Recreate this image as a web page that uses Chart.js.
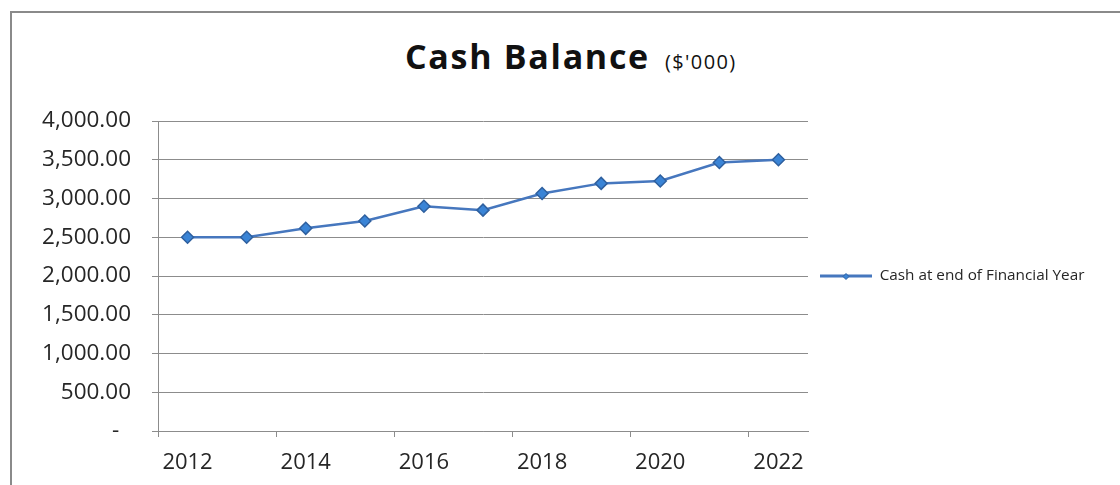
<!DOCTYPE html>
<html>
<head>
<meta charset="utf-8">
<title>Cash Balance</title>
<script src="https://cdn.jsdelivr.net/npm/chart.js@4.4.1/dist/chart.umd.min.js"></script>
<style>
  html, body { margin: 0; padding: 0; background: #fff; width: 1120px; height: 485px; overflow: hidden; }
  #frame { position: absolute; left: 10px; top: 11px; width: 1200px; height: 600px;
           border-left: 2px solid #8a8a8a; border-top: 2px solid #8a8a8a; box-sizing: border-box; }
  #title { position: absolute; left: 405px; top: 39px; white-space: nowrap; color: #111;
           font-family: "Open Sans", sans-serif; font-weight: 700; font-size: 34px; line-height: 34px;
           letter-spacing: 1.7px; }
  #title span { font-size: 20px; font-weight: 400; margin-left: 15px; letter-spacing: 1.4px; }
  canvas { position: absolute; left: 0; top: 0; }
</style>
</head>
<body>
<div id="frame"></div>
<div id="title">Cash Balance<span>($'000)</span></div>
<canvas id="chart" width="1120" height="485"></canvas>
<script>
// Financial years on the category axis
const years = ['2012', '2013', '2014', '2015', '2016', '2017', '2018', '2019', '2020', '2021', '2022'];
// Cash held at the end of each financial year, $'000
const cashBalance = [2500, 2500, 2615, 2710, 2900, 2850, 3065, 3195, 3225, 3465, 3500];
const seriesName = 'Cash at end of Financial Year';
// Value axis range
const yMin = 0;
const yMax = 4000;
const yStep = 500;

const FONT = '"Open Sans", sans-serif';
const AXIS_GRAY = '#8c8c8c';
const TEXT = '#262626';
const LINE_BLUE = '#4677be';

// Plot area edges within the canvas
const PLOT_LEFT = 158;
const PLOT_RIGHT = 808;
const PLOT_TOP = 121;
const PLOT_BOTTOM = 431;

// Legend sizing: reserve exactly the legend's width to the right of the plot
const LEGEND_FONT_SIZE = 15.3;
const LEGEND_BOX_W = 52;
const LEGEND_PAD = 12;
const measure = document.createElement('canvas').getContext('2d');
measure.font = LEGEND_FONT_SIZE + 'px ' + FONT;
const legendWidth = LEGEND_PAD + LEGEND_BOX_W + LEGEND_FONT_SIZE / 2 + measure.measureText(seriesName).width + 10;
const padRight = 1120 - PLOT_RIGHT - legendWidth;

// Small diamond marker on the legend line
const legendMarker = {
  id: 'legendMarker',
  afterDraw(chart) {
    const lg = chart.legend;
    if (!lg || !lg.legendHitBoxes.length) return;
    const hb = lg.legendHitBoxes[0];
    const ds = chart.data.datasets[0];
    const ctx = chart.ctx;
    ctx.save();
    ctx.fillStyle = ds.pointBackgroundColor;
    ctx.strokeStyle = ds.pointBorderColor;
    ctx.lineWidth = 1;
    Chart.helpers.drawPoint(ctx, { pointStyle: 'rectRot', radius: 3, borderWidth: 1 },
      hb.left + LEGEND_BOX_W / 2, hb.top + LEGEND_FONT_SIZE / 2 + 0.5);
    ctx.restore();
  }
};

new Chart(document.getElementById('chart'), {
  type: 'line',
  data: {
    labels: years,
    datasets: [{
      label: seriesName,
      data: cashBalance,
      borderColor: LINE_BLUE,
      backgroundColor: LINE_BLUE,
      borderWidth: 2.5,
      tension: 0,
      fill: false,
      pointStyle: 'rectRot',
      pointRadius: 6,
      pointHoverRadius: 6,
      pointBackgroundColor: '#3a84d6',
      pointBorderColor: '#2f609f',
      pointBorderWidth: 1.5
    }]
  },
  options: {
    responsive: false,
    animation: false,
    devicePixelRatio: 1,
    layout: { padding: { top: PLOT_TOP, left: 0, right: padRight, bottom: 0 } },
    plugins: {
      title: { display: false },
      tooltip: { enabled: false },
      legend: {
        position: 'right',
        align: 'center',
        fullSize: false,
        maxWidth: 600,
        labels: {
          boxWidth: LEGEND_BOX_W,
          boxHeight: 3,
          padding: LEGEND_PAD,
          color: TEXT,
          font: { family: FONT, size: LEGEND_FONT_SIZE },
          generateLabels: chart => Chart.defaults.plugins.legend.labels.generateLabels(chart)
            .map(item => Object.assign(item, { lineWidth: 0, fillStyle: LINE_BLUE }))
        }
      }
    },
    scales: {
      x: {
        offset: true,
        grid: {
          offset: true,
          drawOnChartArea: false,
          tickLength: 6,
          tickColor: ctx => (ctx.index % 2 === 0 ? AXIS_GRAY : 'rgba(0,0,0,0)')
        },
        border: { color: AXIS_GRAY, width: 1 },
        ticks: {
          autoSkip: false,
          maxRotation: 0,
          padding: 13,
          color: TEXT,
          font: { family: FONT, size: 22 },
          callback: (v, i) => (i % 2 === 0 ? years[i] : '')
        },
        afterFit: s => { s.height = 485 - PLOT_BOTTOM; }
      },
      y: {
        min: yMin,
        max: yMax,
        ticks: {
          stepSize: yStep,
          padding: 21,
          color: TEXT,
          font: { family: FONT, size: 22.5 },
          callback: v => (v === 0 ? '-  ' : v.toLocaleString('en-US', { minimumFractionDigits: 2, maximumFractionDigits: 2 }))
        },
        grid: { color: AXIS_GRAY, lineWidth: 1, tickLength: 6, tickColor: AXIS_GRAY },
        border: { color: AXIS_GRAY, width: 1 },
        afterFit: s => { s.width = PLOT_LEFT; }
      }
    }
  },
  plugins: [legendMarker]
});
</script>
</body>
</html>
